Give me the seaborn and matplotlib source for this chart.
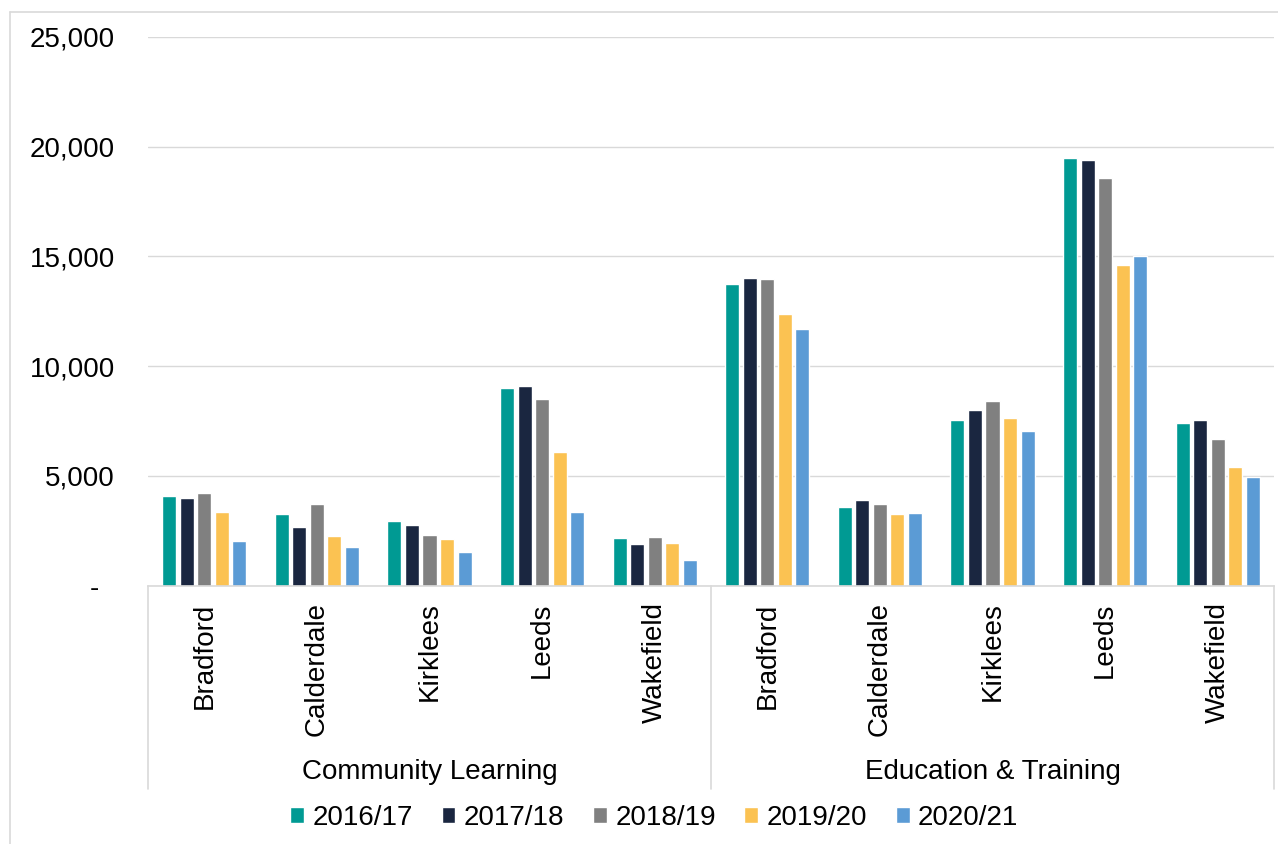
import matplotlib.pyplot as plt
import pandas as pd
import seaborn as sns
from matplotlib.patches import Patch
from matplotlib.lines import Line2D
from matplotlib.ticker import FuncFormatter

groups = ['Community Learning', 'Education & Training']
areas = ['Bradford', 'Calderdale', 'Kirklees', 'Leeds', 'Wakefield']
years = ['2016/17', '2017/18', '2018/19', '2019/20', '2020/21']
colors = ['#009a93', '#1a2640', '#808080', '#fbc252', '#5b9bd5']

# learners per year: Community Learning areas first, then Education & Training areas
v2016_17 = [4080, 3250, 2970, 8990, 2170, 13730, 3590, 7550, 19490, 7400]
v2017_18 = [3990, 2670, 2760, 9090, 1900, 14000, 3900, 8020, 19400, 7550]
v2018_19 = [4210, 3710, 2300, 8520, 2210, 13970, 3730, 8430, 18560, 6670]
v2019_20 = [3360, 2260, 2110, 6090, 1940, 12360, 3250, 7640, 14620, 5400]
v2020_21 = [2030, 1750, 1520, 3360, 1180, 11680, 3290, 7060, 15020, 4970]

series = [v2016_17, v2017_18, v2018_19, v2019_20, v2020_21]
cats = [g + '|' + a for g in groups for a in areas]
rows = []
for yr, vals in zip(years, series):
    for c, v in zip(cats, vals):
        rows.append({'cat': c, 'year': yr, 'value': v})
df = pd.DataFrame(rows)

sns.set_style('white')
plt.rcParams['font.family'] = ['Liberation Sans', 'DejaVu Sans']
plt.rcParams['text.color'] = 'black'
plt.rcParams['xtick.color'] = 'black'
plt.rcParams['ytick.color'] = 'black'
fs = 20

W, H = 1278, 844
fig = plt.figure(figsize=(W / 100, H / 100), dpi=100)
ax = fig.add_axes([148 / W, 1 - 585.7 / H, (1274 - 148) / W, (585.7 - 37) / H])

sns.barplot(data=df, x='cat', y='value', hue='year', order=cats, hue_order=years,
            palette=colors, saturation=1, width=0.78, gap=0.2, legend=False, ax=ax)

ax.set_ylim(0, 25000)
ax.set_xlim(-0.5, 9.5)
ax.set_yticks(range(0, 25001, 5000))
ax.yaxis.set_major_formatter(FuncFormatter(lambda v, p: '-  ' if v == 0 else f'{v:,.0f}'))
ax.grid(axis='y', color='#d9d9d9', lw=1)
ax.set_axisbelow(True)
for s in ['top', 'right', 'left']:
    ax.spines[s].set_visible(False)
ax.spines['bottom'].set_color('#d9d9d9')
ax.spines['bottom'].set_linewidth(1.2)
ax.set_xlabel('')
ax.set_ylabel('')
ax.set_xticks(range(len(cats)))
ax.set_xticklabels(areas * 2, rotation=90, fontsize=fs)
ax.tick_params(axis='x', length=0, pad=12, colors='black')
ax.tick_params(axis='y', length=0, pad=24, labelsize=fs, colors='black')

# group separators and labels below the axis
trans = ax.get_xaxis_transform()
for x in [-0.5, 4.5, 9.5]:
    ax.plot([x, x], [0, -0.3705], transform=trans, color='#d9d9d9', lw=1.2, clip_on=False)
for i, g in enumerate(groups):
    ax.text(2 + 5 * i, -0.3395, g, transform=trans, ha='center', va='center',
            fontsize=fs, color='black')

# outer chart frame
fig.add_artist(Line2D([10 / W, 1], [1 - 12 / H, 1 - 12 / H], color='#d9d9d9', lw=1.2))
fig.add_artist(Line2D([10 / W, 10 / W], [0, 1 - 12 / H], color='#d9d9d9', lw=1.2))

handles = [Patch(facecolor=c, label=y) for c, y in zip(colors, years)]
fig.legend(handles=handles, loc='center', bbox_to_anchor=(0.512, 1 - 818 / H), ncol=5,
           frameon=False, fontsize=fs, handlelength=0.5, handleheight=0.5,
           handletextpad=0.3, columnspacing=1.03)

fig.savefig('out.png', dpi=100)
